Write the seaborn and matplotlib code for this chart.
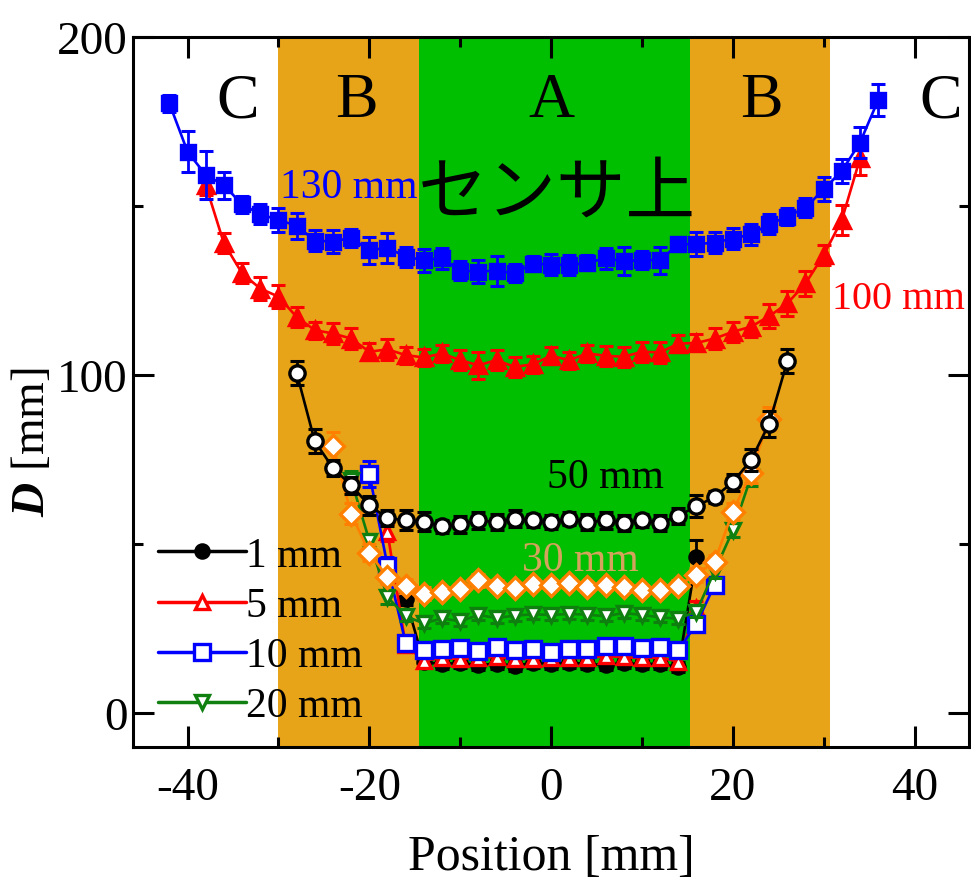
import numpy as np
import matplotlib
matplotlib.use("Agg")
import matplotlib.pyplot as plt
from matplotlib.ticker import MultipleLocator
from matplotlib.lines import Line2D
import seaborn as sns

# ---------------- data ----------------
pos130 = list(range(-42, 37, 2))
val130 = [180.4, 166.1, 159.2, 156.2, 150.5, 147.6, 145.9, 144.2, 139.8, 139.5,
          140.6, 136.9, 137.7, 135.0, 134.0, 134.5, 130.9, 130.6, 130.9, 130.1,
          133.0, 132.7, 132.5, 133.3, 134.5, 133.7, 134.0, 134.0, 138.7, 138.7,
          139.2, 140.4, 141.6, 144.6, 146.9, 149.5, 155.0, 160.4, 168.8, 181.4]
err130 = [2.5, 6, 7, 4, 2.5, 3, 3.5, 3.8, 3, 3.4,
          2.7, 3.9, 4.4, 2.9, 3.4, 3.2, 2.8, 3.5, 4.4, 2.7,
          2.1, 3.2, 3, 2.3, 3.2, 4.2, 2.7, 4, 2, 3.5,
          3.2, 3, 3.2, 3, 2.6, 2.8, 3.5, 3.5, 4.7, 4.7]

pos100 = list(range(-38, 35, 2))
val100 = [156.2, 139.0, 130.1, 125.6, 123.2, 117.2, 113.3, 112.3, 110.8, 106.9,
          107.6, 105.9, 105.2, 106.4, 104.4, 102.9, 104.4, 102.4, 103.2, 105.7,
          104.4, 106.4, 105.7, 105.4, 106.9, 106.7, 109.3, 109.5, 110.8, 112.8,
          114.3, 117.4, 121.2, 127.1, 135.5, 145.9, 164.1]
err100 = [3, 3, 3, 3.5, 3.5, 3, 2.5, 3, 3, 2.5,
          3, 2.5, 2.5, 2.5, 3, 4, 3, 3, 2.5, 2.5,
          2.5, 2.5, 3, 3, 3, 3, 2.5, 2.5, 3, 3,
          3, 3.5, 3.6, 3.6, 3, 4.4, 5]

pos50 = list(range(-28, 27, 2))
val50 = [100.7, 80.4, 72.5, 67.4, 61.4, 57.7, 57.0, 56.6, 55.2, 55.8,
         57.0, 56.5, 57.5, 57.0, 56.5, 57.5, 56.5, 57.0, 56.2, 57.0,
         56.2, 58.3, 61.2, 63.9, 68.3, 74.8, 85.6, 104.1]
err50 = [3.6, 3.5, 2.3, 2.5, 2.7, 2.5, 3, 2.9, 2, 2.5,
         2.5, 2.5, 2.5, 2, 2, 2, 2.5, 2.5, 2.5, 2,
         2.5, 2.5, 3.2, 1.8, 2.5, 3.2, 3.9, 3.5]

pos30 = list(range(-24, 25, 2))
val30 = [79.0, 59.0, 47.4, 40.2, 37.5, 35.3, 35.9, 36.7, 39.2, 37.7,
         37.0, 38.2, 37.8, 38.5, 37.4, 37.9, 37.4, 36.4, 36.4, 37.7,
         40.9, 44.8, 59.6, 71.0, 87.1]
err30 = [4, 3, 2.5, 2, 2, 2, 1.5, 1.5, 2, 1.5,
         1.5, 1.5, 1.5, 1.5, 1.5, 1.5, 1.5, 1.5, 1.5, 1.5,
         2, 2, 2.5, 3, 3.5]

pos20 = list(range(-22, 23, 2))
val20 = [69.0, 51.0, 34.3, 28.6, 26.5, 28.0, 27.1, 29.0, 28.1, 28.8,
         29.2, 29.0, 29.3, 29.1, 28.6, 29.6, 29.0, 28.3, 27.9, 30.0,
         42.0, 54.0, 69.8]
err20 = [2.5, 2, 2, 1.5, 1.5, 1.5, 1.5, 1.5, 1.5, 1.5,
         1.5, 1.5, 1.5, 1.5, 1.5, 1.5, 1.5, 1.5, 1.5, 1.5,
         2, 2, 2.5]

pos10 = list(range(-20, 19, 2))
val10 = [70.8, 43.6, 20.7, 18.5, 19.0, 19.2, 18.2, 19.5, 18.5, 19.0,
         18.0, 19.0, 18.8, 19.9, 19.8, 19.2, 19.5, 18.5, 26.4, 37.9]
err10 = [3.8, 2.5, 2.5, 1.5, 1.5, 1.5, 1.5, 1.5, 1.5, 1.5,
         1.5, 1.5, 1.5, 1.5, 1.5, 1.5, 1.5, 1.5, 1.5, 1.5]

pos5 = list(range(-18, 17, 2))
val5 = [53.5, 20.0, 15.5, 16.2, 16.0, 16.3, 16.6, 16.0, 16.0, 16.4,
        16.2, 16.3, 16.8, 16.5, 16.2, 16.4, 15.2, 31.0]
err5 = [2.5, 2, 1.5, 1.5, 1.5, 1.5, 1.5, 1.5, 1.5, 1.5,
        1.5, 1.5, 1.5, 1.5, 1.5, 1.5, 1.5, 2]

pos1 = list(range(-16, 17, 2))
val1 = [33.8, 15.0, 14.5, 14.8, 14.2, 14.6, 14.0, 14.8, 14.6, 14.9,
        14.5, 14.2, 14.8, 14.4, 14.6, 13.5, 46.1]
err1 = [2, 1.5, 1.5, 1.5, 1.5, 1.5, 1.5, 1.5, 1.5, 1.5,
        1.5, 1.5, 1.5, 1.5, 1.5, 1.5, 5]

legend_labels = ["1 mm", "5 mm", "10 mm", "20 mm"]
zone_letters = ["C", "B", "A", "B", "C"]
zone_letter_x = [-34.5, -21.4, 0.0, 23.1, 42.9]
zone_edges = [-30.0, -14.5, 15.3, 30.7]
x_ticks = [-40, -20, 0, 20, 40]
y_ticks = [0, 100, 200]

# ---------------- style ----------------
sns.set_theme(style="ticks")
plt.rcParams["font.family"] = ["Liberation Serif", "Noto Sans CJK JP", "DejaVu Sans"]
plt.rcParams["axes.unicode_minus"] = False
plt.rcParams["mathtext.fontset"] = "custom"
plt.rcParams["mathtext.it"] = "Liberation Serif:italic:bold"
plt.rcParams["mathtext.rm"] = "Liberation Serif"
for key in ["text.color", "axes.labelcolor", "xtick.color", "ytick.color",
            "xtick.labelcolor", "ytick.labelcolor", "axes.edgecolor"]:
    plt.rcParams[key] = "black"

fig = plt.figure(figsize=(9.71, 8.87), dpi=100)
ax = fig.add_axes([0.137, 0.157, 0.861, 0.800])
ax.set_facecolor("white")

ORANGE_BAND = "#E8A418"
GREEN_BAND = "#00BE00"
ax.axvspan(zone_edges[0], zone_edges[1], color=ORANGE_BAND, lw=0, zorder=0)
ax.axvspan(zone_edges[1], zone_edges[2], color=GREEN_BAND, lw=0, zorder=0)
ax.axvspan(zone_edges[2], zone_edges[3], color=ORANGE_BAND, lw=0, zorder=0)

series = [
    # pos, val, err, color, marker, size, face, zorder
    (pos1, val1, err1, "black", "o", 9.5, "black", 3),
    (pos5, val5, err5, "#FF0000", "^", 10.5, "white", 4),
    (pos10, val10, err10, "#0000FF", "s", 11, "white", 5),
    (pos20, val20, err20, "#0F7F0F", "v", 10.5, "white", 6),
    (pos30, val30, err30, "#FF8000", "D", 11, "white", 7),
    (pos50, val50, err50, "black", "o", 11, "white", 8),
    (pos100, val100, err100, "#FF0000", "^", 12, "#FF0000", 9),
    (pos130, val130, err130, "#0000FF", "s", 10.5, "#0000FF", 10),
]

for p, v, e, c, m, ms, fc, z in series:
    ax.errorbar(p, v, yerr=e, fmt="none", ecolor=c, elinewidth=2,
                capsize=5, capthick=2.2, zorder=z)
    sns.lineplot(x=p, y=v, ax=ax, color=c, marker=m, markersize=ms,
                 markerfacecolor=fc, markeredgecolor=c, markeredgewidth=2.4,
                 linewidth=1.9, zorder=z + 0.1, legend=False, errorbar=None,
                 sort=False)

# ---------------- axes ----------------
ax.set_xlim(-46, 46)
ax.set_ylim(-10, 200)
ax.set_xticks(x_ticks)
ax.set_yticks(y_ticks)
ax.xaxis.set_minor_locator(MultipleLocator(10))
ax.yaxis.set_minor_locator(MultipleLocator(50))
ax.tick_params(which="both", direction="in", top=True, right=True,
               width=2.2, color="black", labelcolor="black")
ax.tick_params(which="major", length=15)
ax.tick_params(which="minor", length=7.5)
ax.tick_params(axis="x", which="major", labelsize=34, pad=14)
ax.tick_params(axis="y", which="major", labelsize=34, pad=4)
for s in ax.spines.values():
    s.set_linewidth(2.2)
    s.set_color("black")
    s.set_zorder(20)

ax.set_xlabel("Position [mm]", fontsize=36, labelpad=18, color="black")
ax.set_ylabel(r"$D$ [mm]", fontsize=34, color="black")
ax.yaxis.set_label_coords(-0.095, 0.43)

# ---------------- texts ----------------
for lt, lx in zip(zone_letters, zone_letter_x):
    ax.text(lx, 176.6, lt, fontsize=46, ha="center", va="baseline",
            color="black", zorder=15)

ax.text(0.6, 153.8, "センサ上", fontsize=50, ha="center", va="center",
        family=["Noto Sans CJK JP", "DejaVu Sans"], color="black", zorder=15)
ax.text(-29.8, 152.8, "130 mm", fontsize=30, color="#0000FF", ha="left",
        va="baseline", zorder=15)
ax.text(30.9, 119.7, "100 mm", fontsize=29, color="#FF0000", ha="left",
        va="baseline", zorder=15)
ax.text(-0.4, 66.9, "50 mm", fontsize=30, color="black", ha="left",
        va="baseline", zorder=15)
ax.text(-3.15, 42.2, "30 mm", fontsize=30, color="#D4A35C", ha="left",
        va="baseline", zorder=15)

# ---------------- legend ----------------
handles = []
for p, v, e, c, m, ms, fc, z in series[:4]:
    handles.append(Line2D([0], [0], color=c, marker=m, markersize=ms,
                          markerfacecolor=fc, markeredgecolor=c,
                          markeredgewidth=2.4, linewidth=2.5))
leg = ax.legend(handles, legend_labels, loc="lower left",
                bbox_to_anchor=(0.03, 0.03), frameon=False, fontsize=30,
                handlelength=2.1, handletextpad=0.0, borderpad=0,
                borderaxespad=0, labelspacing=0.28)
for t in leg.get_texts():
    t.set_color("black")
leg.set_zorder(16)

fig.savefig("out.png", dpi=100)
